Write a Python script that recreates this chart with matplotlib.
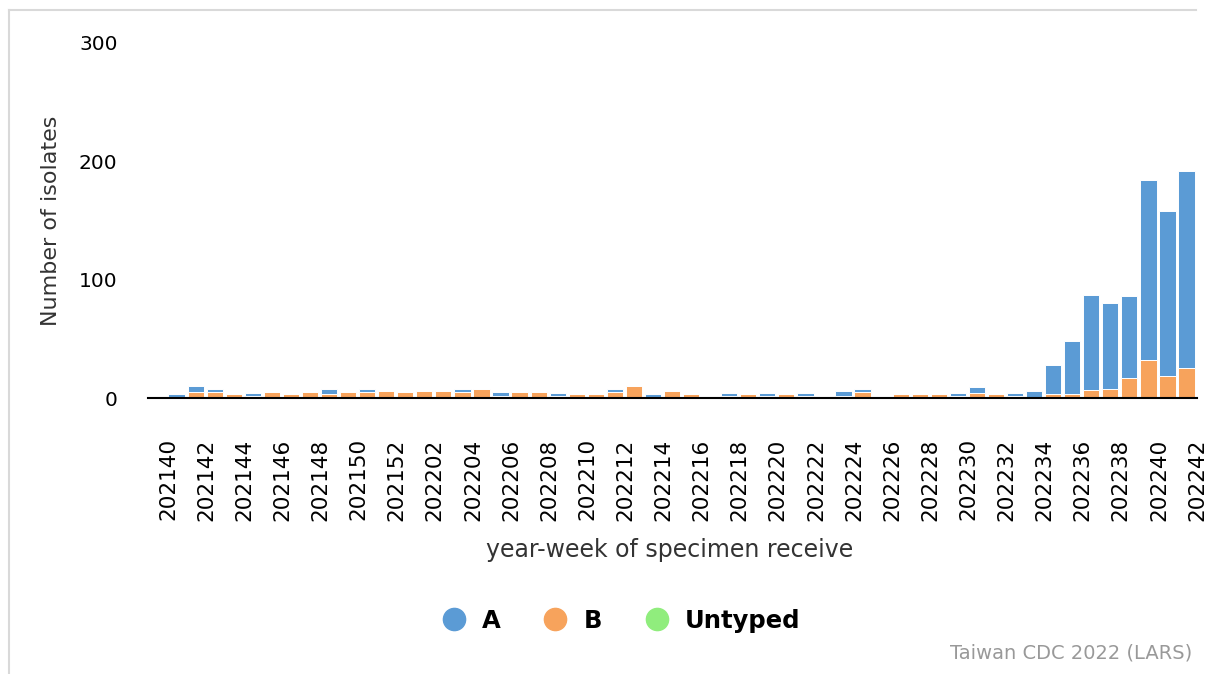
import matplotlib
matplotlib.use('Agg')
import matplotlib.pyplot as plt
from matplotlib.lines import Line2D
import numpy as np

# ── Data ──────────────────────────────────────────────────────────
weeks = [f'2021{w:02d}' for w in range(40, 53)] + [f'2022{w:02d}' for w in range(1, 43)]

flu_a = [0, 3, 5, 3, 0, 2, 0, 0, 0, 5, 0, 3, 0,
         0, 0, 0, 3, 0, 3, 0, 0, 2, 0, 0, 3, 0, 3, 0, 0, 0,
         2, 0, 2, 0, 2, 0, 4, 3, 0, 0, 0, 0, 2, 5, 0, 2, 6,
         25, 45, 80, 72, 69, 152, 139, 167]
flu_b = [0, 0, 5, 5, 3, 2, 5, 3, 5, 3, 5, 5, 6,
         5, 6, 6, 5, 8, 2, 5, 5, 2, 3, 3, 5, 10, 0, 6, 3, 0,
         2, 3, 2, 3, 2, 0, 2, 5, 0, 3, 3, 3, 2, 4, 3, 2, 0,
         3, 3, 7, 8, 17, 32, 19, 25]
untyped = [0] * len(weeks)

C_A = '#5b9bd5'
C_B = '#f7a35c'
C_U = '#90ed7d'

W, H = 1207, 674
fig = plt.figure(figsize=(W / 100, H / 100), dpi=100)
ax = fig.add_axes([148 / W, 1 - 398 / H, 1049 / W, 355 / H])

x = np.arange(len(weeks))
a = np.array(flu_a)
b = np.array(flu_b)
u = np.array(untyped)

ax.bar(x, b, width=0.85, color=C_B, edgecolor='white', linewidth=0.7, zorder=2)
ax.bar(x, u, width=0.85, bottom=b, color=C_U, edgecolor='white', linewidth=0, zorder=2)
ax.bar(x, a, width=0.85, bottom=b + u, color=C_A, edgecolor='white', linewidth=0.7, zorder=2)

ax.set_xlim(-0.5, len(weeks) - 0.5)
ax.set_ylim(0, 300)
ax.set_yticks([0, 100, 200, 300])
ax.tick_params(axis='y', length=0, pad=22, labelsize=14.5)

ticks = x[::2]
ax.set_xticks(ticks + 0.55)
ax.set_xticklabels(weeks[::2], rotation=90, fontsize=15.5)
ax.tick_params(axis='x', length=0, pad=29)

for s in ['top', 'right', 'left']:
    ax.spines[s].set_visible(False)
ax.spines['bottom'].set_linewidth(1.5)
ax.spines['bottom'].set_color('black')
ax.spines['bottom'].set_zorder(3)

fig.text(51 / W, 1 - 221 / H, 'Number of isolates', rotation=90,
         ha='center', va='center', fontsize=16, color='#333333')
fig.text(670 / W, 1 - 550 / H, 'year-week of specimen receive',
         ha='center', va='center', fontsize=17, color='#333333')

handles = [Line2D([], [], ls='none', marker='o', ms=16, color=c, mec=c)
           for c in (C_A, C_B, C_U)]
fig.legend(handles, ['A', 'B', 'Untyped'], loc='center',
           bbox_to_anchor=(621 / W, 1 - 621 / H), ncol=3, frameon=False,
           prop={'weight': 'bold', 'size': 17.5}, handlelength=1.0,
           handletextpad=0.65, columnspacing=1.75)

fig.text(1192 / W, 1 - 653 / H, 'Taiwan CDC 2022 (LARS)', ha='right', va='center',
         fontsize=14, color='#999999')

# outer frame (left + top)
fig.add_artist(Line2D([9 / W, 9 / W], [0, 1 - 10 / H], color='#d9d9d9', lw=1.5))
fig.add_artist(Line2D([9 / W, 1196 / W], [1 - 10 / H, 1 - 10 / H], color='#d9d9d9', lw=1.5))

fig.savefig('out.png', dpi=100)
